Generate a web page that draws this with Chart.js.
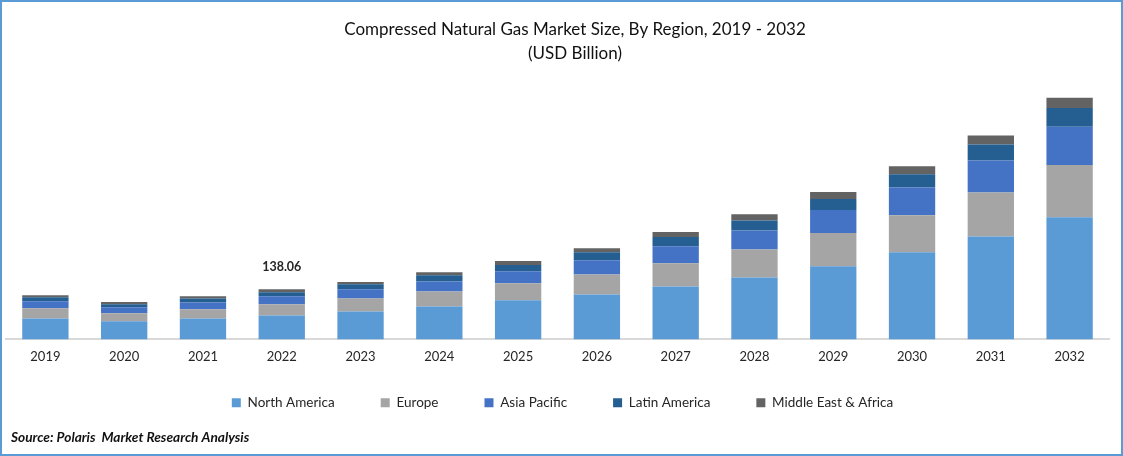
<!DOCTYPE html>
<html lang="en">
<head>
    <meta charset="UTF-8">
    <title>Compressed Natural Gas Market Size</title>
    <script src="https://cdn.jsdelivr.net/npm/chart.js"></script>
    <style>
        html, body { margin: 0; padding: 0; background: #fff; }
        .wrap { width: 1123px; height: 456px; position: relative; overflow: hidden; }
        canvas { outline: 2px solid #5b9bd5; outline-offset: -2px; }
    </style>
</head>
<body>
    <div class="wrap"><canvas id="chart"></canvas></div>
    <script>
        const years = ['2019', '2020', '2021', '2022', '2023', '2024', '2025', '2026', '2027', '2028', '2029', '2030', '2031', '2032'];
        const northAmerica = [58, 50, 58, 66.3, 77, 91, 108, 124, 146, 171, 202, 240, 284, 337];
        const europe = [28, 22, 25, 30.4, 36, 41, 47, 55, 64, 77, 91, 102, 121, 144];
        const asiaPacific = [19, 17, 19, 22.1, 25, 28, 33, 39, 47, 52, 64, 77, 88, 105];
        const latinAmerica = [11, 8, 11, 11, 14, 17, 17, 22, 25, 28, 30, 36, 44, 52];
        const middleEast = [6, 6, 6, 8.26, 6, 8, 11, 11, 14, 17, 19, 22, 25, 28];
        const annotatedYear = '2022';
        const annotatedLabel = '138.06';
        const sourceText = 'Source: Polaris  Market Research Analysis';

        const fontName = 'Lato, sans-serif';
        const axisOverlap = 25;

        // value printed over one stack only
        const stackLabel = {
            id: 'stackLabel',
            afterDatasetsDraw(chart) {
                const i = years.indexOf(annotatedYear);
                const total = chart.data.datasets.reduce((sum, d) => sum + d.data[i], 0);
                const ctx = chart.ctx;
                ctx.save();
                ctx.font = 'bold 12.5px ' + fontName;
                ctx.fillStyle = '#262626';
                ctx.textAlign = 'center';
                ctx.textBaseline = 'middle';
                ctx.fillText(annotatedLabel, chart.scales.x.getPixelForValue(i), chart.scales.y.getPixelForValue(total) - 22);
                ctx.restore();
            }
        };

        // title, legend and source do not sit on the plot's centre in the original
        const nudgeBoxes = {
            id: 'nudgeBoxes',
            afterLayout(chart) {
                chart.titleBlock.left += 35;
                chart.legend.left += 10;
                const source = chart.boxes.find(b => b.options && b.options.text === sourceText);
                source.left += 5;
                // tick labels are clipped to the axis box, give back what afterFit took
                chart.scales.x.bottom += axisOverlap;
            }
        };

        new Chart(document.getElementById('chart'), {
            type: 'bar',
            data: {
                labels: years,
                datasets: [
                    { label: 'North America', data: northAmerica, backgroundColor: '#5b9bd5' },
                    { label: 'Europe', data: europe, backgroundColor: '#a5a5a5' },
                    { label: 'Asia Pacific', data: asiaPacific, backgroundColor: '#4472c4' },
                    { label: 'Latin America', data: latinAmerica, backgroundColor: '#255e91' },
                    { label: 'Middle East & Africa', data: middleEast, backgroundColor: '#636363' }
                ]
            },
            options: {
                responsive: true,
                maintainAspectRatio: false,
                animation: false,
                layout: { padding: { left: 6, right: 14, top: 8, bottom: 6 } },
                datasets: { bar: { categoryPercentage: 1, barPercentage: 0.588 } },
                scales: {
                    x: {
                        stacked: true,
                        grid: { display: false, drawTicks: false },
                        border: { color: '#d9d9d9', width: 2 },
                        ticks: { color: '#262626', padding: 10, font: { family: fontName, size: 13 } },
                        // the legend's own padding already leaves room for the labels
                        afterFit(axis) { axis.height -= axisOverlap; }
                    },
                    y: { stacked: true, display: false, min: 0, max: 738 }
                },
                plugins: {
                    title: {
                        display: true,
                        text: ['Compressed Natural Gas Market Size, By Region, 2019 - 2032', '(USD Billion)'],
                        color: '#111',
                        font: { family: fontName, size: 17, weight: 'normal', lineHeight: 1.4 },
                        padding: { top: 10, bottom: 6 }
                    },
                    subtitle: {
                        display: true,
                        position: 'bottom',
                        align: 'start',
                        text: sourceText,
                        color: '#111',
                        font: { family: fontName, size: 13.7, weight: 'bold', style: 'italic' },
                        padding: { top: 10, bottom: 4 }
                    },
                    legend: {
                        position: 'bottom',
                        labels: {
                            boxWidth: 9,
                            boxHeight: 9,
                            padding: 46,
                            color: '#262626',
                            font: { family: fontName, size: 13.5 }
                        }
                    },
                    tooltip: { enabled: false }
                }
            },
            plugins: [stackLabel, nudgeBoxes]
        });
    </script>
</body>
</html>
